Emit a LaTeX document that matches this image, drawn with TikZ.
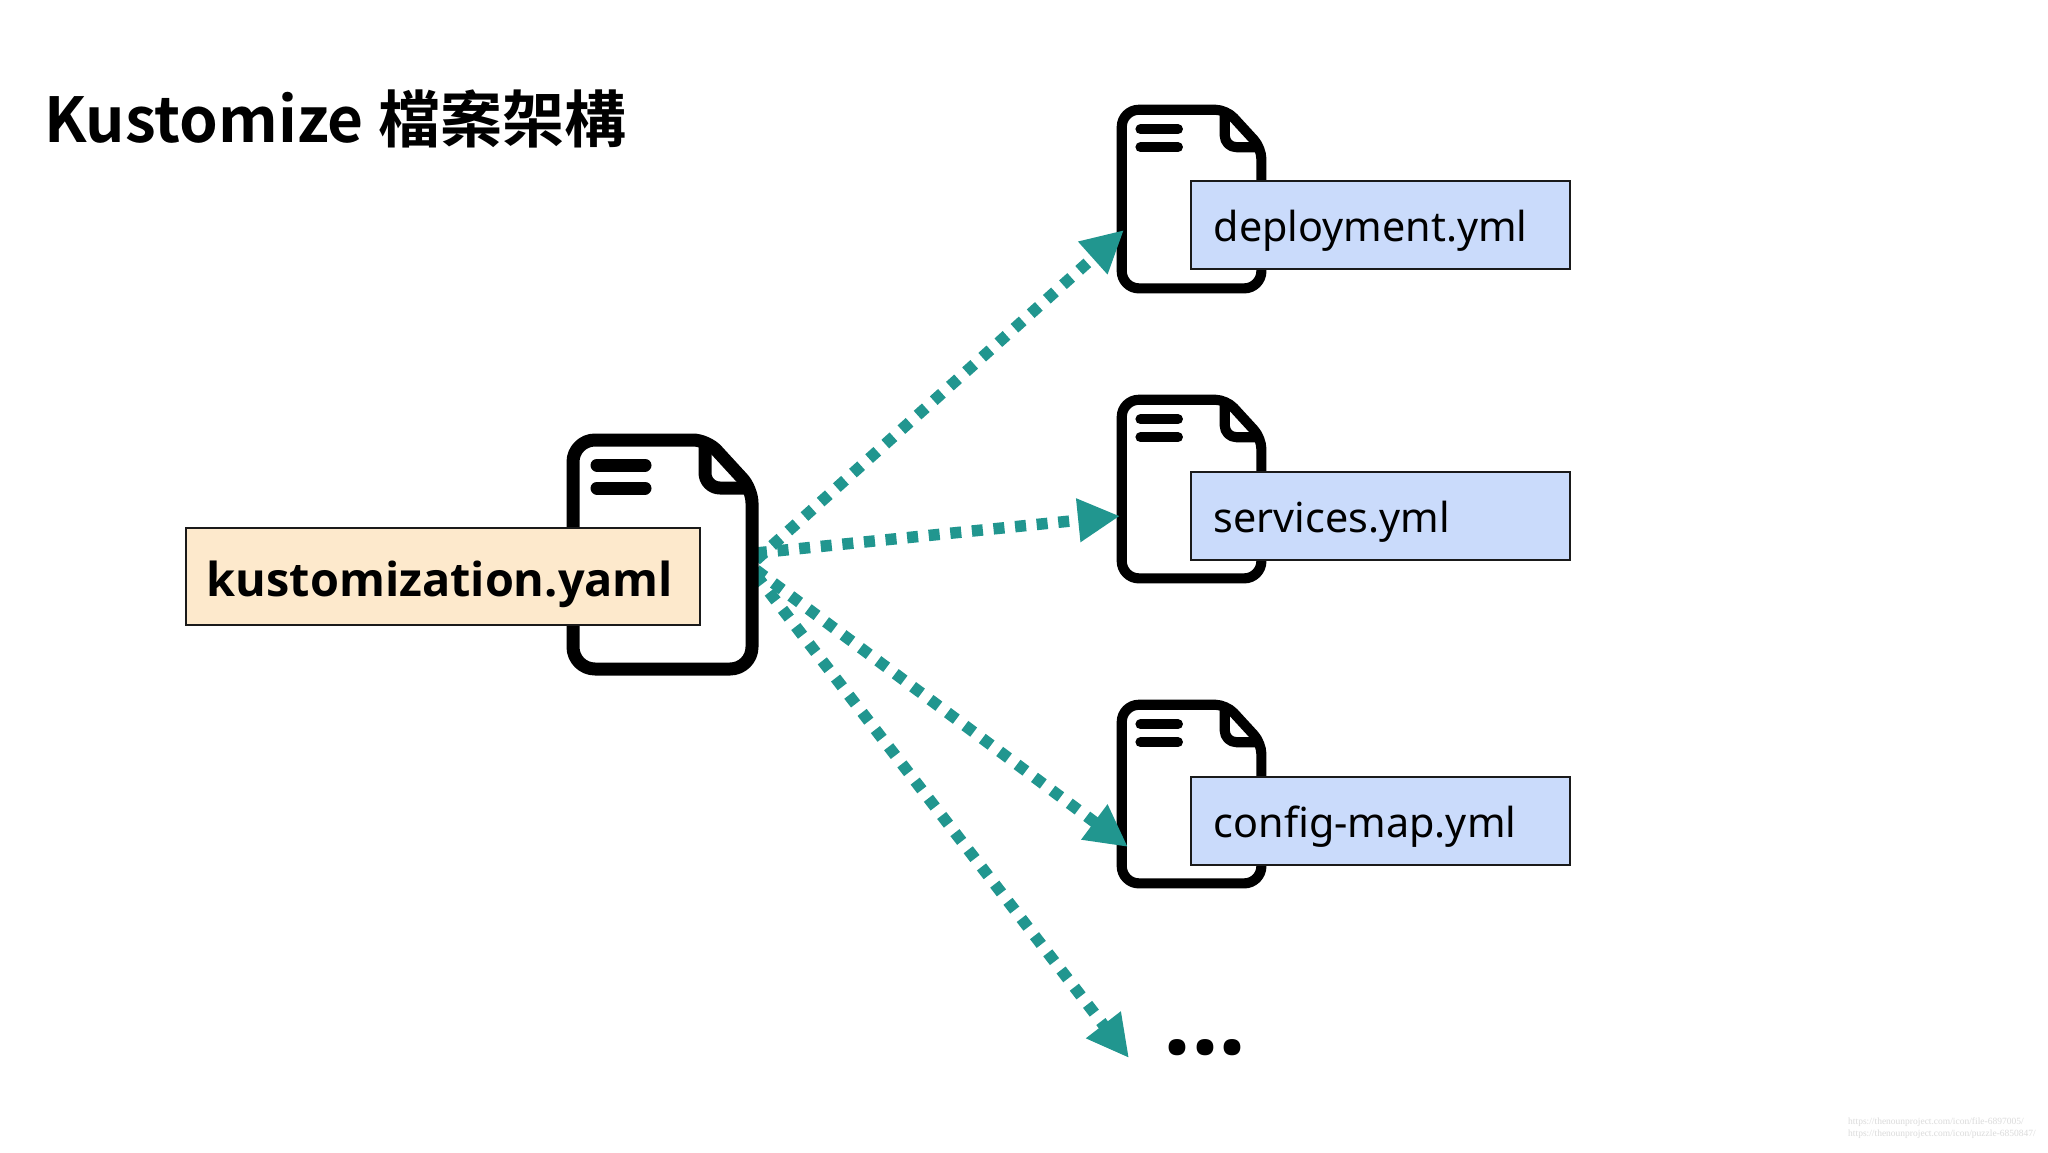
\documentclass[tikz,border=0pt]{standalone}
\usepackage{fontspec}
\setmainfont{Noto Sans}
\newfontfamily\titlefont{Noto Sans CJK TC}[BoldFont={Noto Sans CJK TC Bold}]
\newfontfamily\labelbold{Open Sans}
\newfontfamily\markfont{Liberation Serif}
\usetikzlibrary{arrows.meta}
\definecolor{tealarrow}{HTML}{21968F}
\definecolor{beigebox}{HTML}{FDE9CC}
\definecolor{bluebox}{HTML}{CADBFB}
\definecolor{boxline}{HTML}{1A1A1A}
\tikzset{
  x=1pt,y=-1pt,
  flow/.style={draw=tealarrow,line width=11.5pt,dash pattern=on 11pt off 10.7pt,
    -{Triangle[length=42pt,width=41pt]}},
  filebox/.style={draw=boxline,line width=1.6pt,rectangle,anchor=north west,inner ysep=0pt,align=left},
  bluefile/.style={filebox,fill=bluebox,inner xsep=23pt,text width=333pt,text height=61pt,text depth=27pt,
    font=\fontsize{41.3}{48}\selectfont},
  yamlfile/.style={filebox,fill=beigebox,inner xsep=21pt,text width=472pt,text height=68.5pt,text depth=28.5pt,
    font=\labelbold\bfseries\fontsize{46.8}{54}\selectfont},
}
% #1 x, #2 y of the top-left of the outline's centre line, #3 scale
\newcommand\fileicon[3]{%
  \begin{scope}[shift={(#1,#2)},x=#3pt,y=-#3pt,line width=13pt*#3,line join=round]
    \draw[fill=white] (60,0) [rounded corners=14pt*#3] -- (134,0) -- (179,49) [rounded corners=22pt*#3] -- (179,229) -- (0,229) -- (0,0) -- cycle;
    \draw[rounded corners=15pt*#3] (132,4) -- (132,48) -- (177,48);
    \draw[line cap=round] (24,25) -- (72,25);
    \draw[line cap=round] (24,48) -- (72,48);
  \end{scope}}
\begin{document}
\begin{tikzpicture}
  \useasboundingbox[fill=white] (0,0) rectangle (2048,1152);

  \node[anchor=base west,inner sep=0pt,font=\titlefont\bfseries\fontsize{62}{72}\selectfont] (title) at (44,142) {Kustomize 檔案架構};

  \fileicon{1121.75}{109.75}{0.78}
  \fileicon{1121.75}{399.75}{0.78}
  \fileicon{1121.75}{704.75}{0.78}

  \coordinate (src1) at (756,560);
  \coordinate (src2) at (756,553);
  \coordinate (src3) at (756,570);
  \coordinate (src4) at (756,575);
  \coordinate (dst1) at (1124,230);
  \coordinate (dst2) at (1120,516);
  \coordinate (dst3) at (1128,847);
  \coordinate (dst4) at (1129,1058);
  \draw[flow] (src1) -- (dst1);
  \draw[flow] (src2) -- (dst2);
  \draw[flow] (src3) -- (dst3);
  \draw[flow] (src4) -- (dst4);

  \fileicon{573}{440}{1}

  \node[yamlfile] (kust) at (185,527) {kustomization.yaml};
  \node[bluefile] (dep) at (1190,180) {deployment.yml};
  \node[bluefile] (svc) at (1190,471) {services.yml};
  \node[bluefile] (cfg) at (1190,776) {config-map.yml};

  \node[anchor=base,inner sep=0pt,font=\labelbold\bfseries\fontsize{98}{100}\selectfont] (more) at (1205,1054) {...};

  \node[anchor=base west,inner sep=0pt,text=black!14,font=\markfont\fontsize{9.5}{11}\selectfont,align=left] (credit1) at (1848,1124) {https://thenounproject.com/icon/file-6897005/};
  \node[anchor=base west,inner sep=0pt,text=black!14,font=\markfont\fontsize{9.5}{11}\selectfont,align=left] (credit2) at (1848,1136) {https://thenounproject.com/icon/puzzle-6850847/};
\end{tikzpicture}
\end{document}
